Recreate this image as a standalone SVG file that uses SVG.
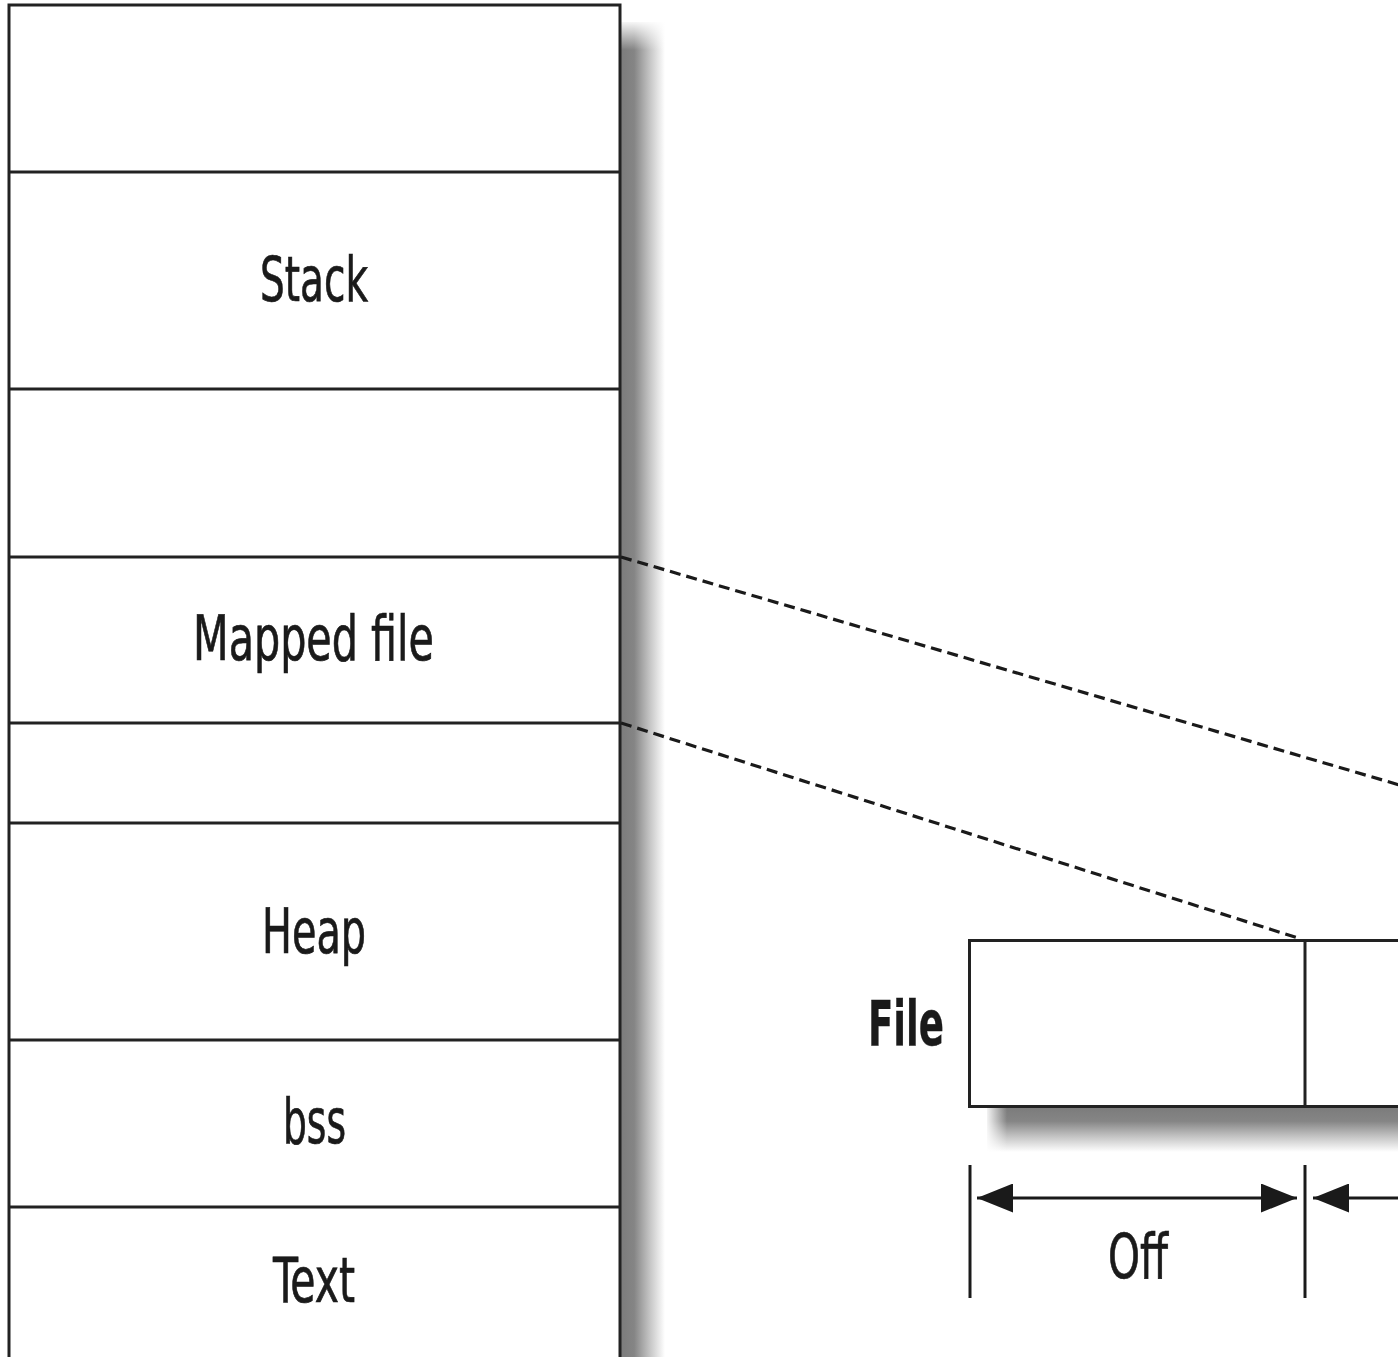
<svg xmlns="http://www.w3.org/2000/svg" width="1398" height="1357" viewBox="0 0 1398 1357">
  <style>
    .box { fill: #ffffff; stroke: #222222; stroke-width: 3; }
    .div { stroke: #222222; stroke-width: 3; fill: none; }
    .lbl { font-family: "Liberation Sans Narrow", "DejaVu Sans Condensed", "Liberation Sans", sans-serif; font-size: 62px; fill: #1a1a1a; stroke: #1a1a1a; stroke-width: 0.7; text-anchor: start; }
    .bold { font-weight: bold; stroke-width: 0.4; }
    .dash { stroke: #1a1a1a; stroke-width: 3.2; stroke-dasharray: 11 6; fill: none; }
    .dim { stroke: #1a1a1a; stroke-width: 3; fill: none; }
  </style>
  <defs>
    <linearGradient id="shadowH" x1="0" y1="0" x2="1" y2="0">
      <stop offset="0" stop-color="#7c7c7c"/>
      <stop offset="0.3" stop-color="#858585"/>
      <stop offset="0.65" stop-color="#c4c4c4"/>
      <stop offset="1" stop-color="#ffffff"/>
    </linearGradient>
    <linearGradient id="shadowV" x1="0" y1="0" x2="0" y2="1">
      <stop offset="0" stop-color="#7c7c7c"/>
      <stop offset="0.3" stop-color="#858585"/>
      <stop offset="0.65" stop-color="#c4c4c4"/>
      <stop offset="1" stop-color="#ffffff"/>
    </linearGradient>
    <linearGradient id="fadeTop" x1="0" y1="0" x2="0" y2="1">
      <stop offset="0" stop-color="#ffffff" stop-opacity="1"/>
      <stop offset="1" stop-color="#ffffff" stop-opacity="0"/>
    </linearGradient>
    <linearGradient id="fadeLeft" x1="0" y1="0" x2="1" y2="0">
      <stop offset="0" stop-color="#ffffff" stop-opacity="1"/>
      <stop offset="1" stop-color="#ffffff" stop-opacity="0"/>
    </linearGradient>
    <marker id="arrow" viewBox="0 0 36 29" refX="36" refY="14.5" markerWidth="36" markerHeight="29" markerUnits="userSpaceOnUse" orient="auto-start-reverse">
      <path d="M0,0 L36,14.5 L0,29 Z" fill="#1a1a1a"/>
    </marker>
  </defs>

  <rect width="1398" height="1357" fill="#ffffff"/>

  <!-- shadows -->
  <g id="shadows">
    <rect x="621" y="22" width="44" height="1360" fill="url(#shadowH)"/>
    <rect x="621" y="20" width="44" height="30" fill="url(#fadeTop)"/>
    <rect x="987" y="1108" width="430" height="44" fill="url(#shadowV)"/>
    <rect x="985" y="1108" width="22" height="44" fill="url(#fadeLeft)"/>
  </g>

  <!-- memory layout column -->
  <g id="memory">
    <rect class="box" x="9" y="5" width="611" height="1380"/>
    <g id="seg-top"><line class="div" x1="9" y1="172" x2="620" y2="172"/></g>
    <g id="seg-stack">
      <text class="lbl" x="260" y="301" textLength="108" lengthAdjust="spacingAndGlyphs">Stack</text>
      <line class="div" x1="9" y1="389" x2="620" y2="389"/>
    </g>
    <g id="seg-gap1"><line class="div" x1="9" y1="557" x2="620" y2="557"/></g>
    <g id="seg-mapped">
      <text class="lbl" x="193" y="660" textLength="241" lengthAdjust="spacingAndGlyphs">Mapped file</text>
      <line class="div" x1="9" y1="723" x2="620" y2="723"/>
    </g>
    <g id="seg-gap2"><line class="div" x1="9" y1="823" x2="620" y2="823"/></g>
    <g id="seg-heap">
      <text class="lbl" x="262" y="953" textLength="104" lengthAdjust="spacingAndGlyphs">Heap</text>
      <line class="div" x1="9" y1="1040" x2="620" y2="1040"/>
    </g>
    <g id="seg-bss">
      <text class="lbl" x="283" y="1143" textLength="63" lengthAdjust="spacingAndGlyphs">bss</text>
      <line class="div" x1="9" y1="1207" x2="620" y2="1207"/>
    </g>
    <g id="seg-text">
      <text class="lbl" x="273" y="1302" textLength="82" lengthAdjust="spacingAndGlyphs">Text</text>
    </g>
  </g>

  <!-- file -->
  <g id="file">
    <text class="lbl bold" x="868" y="1045" textLength="76" lengthAdjust="spacingAndGlyphs">File</text>
    <rect class="box" x="969.5" y="940.5" width="460" height="166"/>
    <line class="div" x1="1305" y1="940" x2="1305" y2="1107"/>
  </g>

  <!-- connectors -->
  <g id="connectors">
    <line class="dash" x1="621" y1="557" x2="1420" y2="791"/>
    <line class="dash" x1="621" y1="723" x2="1298" y2="938"/>
  </g>

  <!-- dimension -->
  <g id="dimension">
    <line class="dim" x1="970" y1="1165" x2="970" y2="1298"/>
    <line class="dim" x1="1305" y1="1165" x2="1305" y2="1298"/>
    <line class="dim" x1="977" y1="1198" x2="1297" y2="1198" marker-start="url(#arrow)" marker-end="url(#arrow)"/>
    <line class="dim" x1="1313" y1="1198" x2="1420" y2="1198" marker-start="url(#arrow)"/>
    <text class="lbl" x="1108" y="1278" textLength="60" lengthAdjust="spacingAndGlyphs">Off</text>
  </g>
</svg>
